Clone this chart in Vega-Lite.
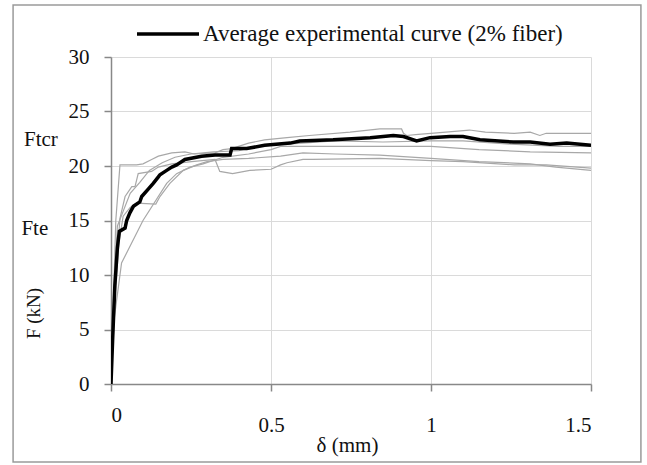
{
  "$schema": "https://vega.github.io/schema/vega-lite/v6.json",
  "autosize": {"type": "none"},
  "width": 480,
  "height": 327,
  "padding": {"left": 111, "top": 57, "right": 56, "bottom": 81},
  "background": "white",
  "config": {
    "view": {"stroke": null},
    "font": "Liberation Serif",
    "axis": {
      "labelFont": "Liberation Serif",
      "titleFont": "Liberation Serif",
      "labelFontSize": 21,
      "titleFontSize": 21,
      "labelColor": "#111111",
      "titleColor": "#111111",
      "titleFontWeight": "normal",
      "domainColor": "#888888",
      "domainWidth": 1.5,
      "tickColor": "#888888",
      "tickWidth": 1.5,
      "tickSize": 7,
      "grid": true,
      "gridColor": "#dadada",
      "gridWidth": 1
    }
  },
  "datasets": {
    "avg": [
      {"d": 0, "F": 0}, {"d": 0.005, "F": 4}, {"d": 0.012, "F": 9}, {"d": 0.02, "F": 12.5},
      {"d": 0.026, "F": 14.0}, {"d": 0.044, "F": 14.3}, {"d": 0.049, "F": 15.0}, {"d": 0.059, "F": 15.7},
      {"d": 0.07, "F": 16.3}, {"d": 0.09, "F": 16.7}, {"d": 0.096, "F": 17.2}, {"d": 0.117, "F": 17.9},
      {"d": 0.132, "F": 18.4}, {"d": 0.148, "F": 19.0}, {"d": 0.153, "F": 19.2}, {"d": 0.174, "F": 19.6},
      {"d": 0.19, "F": 19.9}, {"d": 0.205, "F": 20.1}, {"d": 0.231, "F": 20.6}, {"d": 0.283, "F": 20.9},
      {"d": 0.325, "F": 21.0}, {"d": 0.372, "F": 21.0}, {"d": 0.377, "F": 21.6}, {"d": 0.424, "F": 21.6},
      {"d": 0.48, "F": 21.9}, {"d": 0.56, "F": 22.1}, {"d": 0.59, "F": 22.3}, {"d": 0.694, "F": 22.4},
      {"d": 0.81, "F": 22.6}, {"d": 0.882, "F": 22.8}, {"d": 0.914, "F": 22.7}, {"d": 0.955, "F": 22.3},
      {"d": 0.997, "F": 22.6}, {"d": 1.06, "F": 22.7}, {"d": 1.1, "F": 22.7}, {"d": 1.153, "F": 22.4},
      {"d": 1.257, "F": 22.2}, {"d": 1.31, "F": 22.2}, {"d": 1.372, "F": 22.0}, {"d": 1.424, "F": 22.1},
      {"d": 1.5, "F": 21.9}
    ],
    "grey": [
      {"s": "G1", "d": 0, "F": 0}, {"s": "G1", "d": 0.005, "F": 5}, {"s": "G1", "d": 0.015, "F": 15},
      {"s": "G1", "d": 0.028, "F": 20.1}, {"s": "G1", "d": 0.08, "F": 20.1}, {"s": "G1", "d": 0.1, "F": 20.2},
      {"s": "G1", "d": 0.127, "F": 20.6}, {"s": "G1", "d": 0.148, "F": 20.9}, {"s": "G1", "d": 0.19, "F": 21.2},
      {"s": "G1", "d": 0.231, "F": 21.3}, {"s": "G1", "d": 0.26, "F": 21.1}, {"s": "G1", "d": 0.325, "F": 21.2},
      {"s": "G1", "d": 0.35, "F": 21.5}, {"s": "G1", "d": 0.377, "F": 21.6}, {"s": "G1", "d": 0.43, "F": 22.1},
      {"s": "G1", "d": 0.48, "F": 22.4}, {"s": "G1", "d": 0.55, "F": 22.6}, {"s": "G1", "d": 0.62, "F": 22.8},
      {"s": "G1", "d": 0.747, "F": 23.1}, {"s": "G1", "d": 0.84, "F": 23.4}, {"s": "G1", "d": 0.908, "F": 23.4},
      {"s": "G1", "d": 0.914, "F": 23.0}, {"s": "G1", "d": 0.924, "F": 22.8}, {"s": "G1", "d": 0.96, "F": 22.9},
      {"s": "G1", "d": 1.0, "F": 23.0}, {"s": "G1", "d": 1.12, "F": 23.3}, {"s": "G1", "d": 1.17, "F": 23.1},
      {"s": "G1", "d": 1.26, "F": 23.0}, {"s": "G1", "d": 1.31, "F": 23.1}, {"s": "G1", "d": 1.34, "F": 22.8},
      {"s": "G1", "d": 1.36, "F": 23.0}, {"s": "G1", "d": 1.5, "F": 23.0},

      {"s": "G2", "d": 0, "F": 0}, {"s": "G2", "d": 0.01, "F": 8}, {"s": "G2", "d": 0.028, "F": 15.2},
      {"s": "G2", "d": 0.044, "F": 17.2}, {"s": "G2", "d": 0.065, "F": 18.1}, {"s": "G2", "d": 0.075, "F": 18.1},
      {"s": "G2", "d": 0.085, "F": 19.3}, {"s": "G2", "d": 0.127, "F": 19.5}, {"s": "G2", "d": 0.148, "F": 19.9},
      {"s": "G2", "d": 0.19, "F": 20.2}, {"s": "G2", "d": 0.252, "F": 20.4}, {"s": "G2", "d": 0.325, "F": 20.6},
      {"s": "G2", "d": 0.34, "F": 19.5}, {"s": "G2", "d": 0.38, "F": 19.3}, {"s": "G2", "d": 0.434, "F": 19.6},
      {"s": "G2", "d": 0.5, "F": 19.7}, {"s": "G2", "d": 0.53, "F": 20.1}, {"s": "G2", "d": 0.55, "F": 20.3},
      {"s": "G2", "d": 0.6, "F": 20.6}, {"s": "G2", "d": 0.63, "F": 20.6}, {"s": "G2", "d": 0.84, "F": 20.7},
      {"s": "G2", "d": 1.0, "F": 20.5}, {"s": "G2", "d": 1.1, "F": 20.4}, {"s": "G2", "d": 1.26, "F": 20.1},
      {"s": "G2", "d": 1.36, "F": 20.1}, {"s": "G2", "d": 1.5, "F": 19.8},

      {"s": "G3", "d": 0, "F": 0}, {"s": "G3", "d": 0.01, "F": 7}, {"s": "G3", "d": 0.025, "F": 13},
      {"s": "G3", "d": 0.038, "F": 15.4}, {"s": "G3", "d": 0.06, "F": 16.2}, {"s": "G3", "d": 0.08, "F": 16.6},
      {"s": "G3", "d": 0.14, "F": 16.5}, {"s": "G3", "d": 0.153, "F": 17.2}, {"s": "G3", "d": 0.184, "F": 18.4},
      {"s": "G3", "d": 0.226, "F": 19.6}, {"s": "G3", "d": 0.268, "F": 20.1}, {"s": "G3", "d": 0.3, "F": 20.4},
      {"s": "G3", "d": 0.35, "F": 20.6}, {"s": "G3", "d": 0.43, "F": 20.7}, {"s": "G3", "d": 0.53, "F": 20.9},
      {"s": "G3", "d": 0.6, "F": 21.2}, {"s": "G3", "d": 0.7, "F": 21.1}, {"s": "G3", "d": 0.84, "F": 21.0},
      {"s": "G3", "d": 1.0, "F": 20.7}, {"s": "G3", "d": 1.15, "F": 20.4}, {"s": "G3", "d": 1.31, "F": 20.2},
      {"s": "G3", "d": 1.39, "F": 19.9}, {"s": "G3", "d": 1.5, "F": 19.6},

      {"s": "G4", "d": 0, "F": 0}, {"s": "G4", "d": 0.01, "F": 6}, {"s": "G4", "d": 0.033, "F": 11.1},
      {"s": "G4", "d": 0.1, "F": 15.0}, {"s": "G4", "d": 0.174, "F": 18.4}, {"s": "G4", "d": 0.205, "F": 19.3},
      {"s": "G4", "d": 0.247, "F": 19.9}, {"s": "G4", "d": 0.288, "F": 20.2}, {"s": "G4", "d": 0.35, "F": 20.8},
      {"s": "G4", "d": 0.43, "F": 21.1}, {"s": "G4", "d": 0.5, "F": 21.5}, {"s": "G4", "d": 0.53, "F": 21.8},
      {"s": "G4", "d": 0.65, "F": 21.8}, {"s": "G4", "d": 0.81, "F": 21.8}, {"s": "G4", "d": 1.0, "F": 21.8},
      {"s": "G4", "d": 1.15, "F": 21.5}, {"s": "G4", "d": 1.31, "F": 21.3}, {"s": "G4", "d": 1.5, "F": 21.2},

      {"s": "G5", "d": 0, "F": 0}, {"s": "G5", "d": 0.01, "F": 9}, {"s": "G5", "d": 0.02, "F": 14.5},
      {"s": "G5", "d": 0.04, "F": 16}, {"s": "G5", "d": 0.06, "F": 17.5}, {"s": "G5", "d": 0.09, "F": 18.5},
      {"s": "G5", "d": 0.12, "F": 19.6}, {"s": "G5", "d": 0.16, "F": 20.3}, {"s": "G5", "d": 0.2, "F": 20.8},
      {"s": "G5", "d": 0.25, "F": 21.1}, {"s": "G5", "d": 0.32, "F": 21.3}, {"s": "G5", "d": 0.4, "F": 21.4},
      {"s": "G5", "d": 0.45, "F": 21.8}, {"s": "G5", "d": 0.55, "F": 22.0}, {"s": "G5", "d": 0.7, "F": 22.3},
      {"s": "G5", "d": 0.85, "F": 22.2}, {"s": "G5", "d": 1.0, "F": 22.3}, {"s": "G5", "d": 1.1, "F": 22.3},
      {"s": "G5", "d": 1.25, "F": 22.0}, {"s": "G5", "d": 1.4, "F": 21.8}, {"s": "G5", "d": 1.5, "F": 21.8}
    ],
    "notes": [
      {"label": "Ftcr", "d": -0.272, "F": 22.4},
      {"label": "Fte", "d": -0.28, "F": 14.2}
    ],
    "frame": [
      {"x0": -0.306, "x1": 1.656, "y0": 34.77, "y1": -7.15}
    ]
  },
  "layer": [
    {
      "data": {"name": "grey"},
      "mark": {"type": "line", "color": "#a8a8a8", "strokeWidth": 1.2, "clip": true},
      "encoding": {
        "x": {"field": "d", "type": "quantitative"},
        "y": {"field": "F", "type": "quantitative"},
        "detail": {"field": "s"}
      }
    },
    {
      "data": {"name": "avg"},
      "transform": [{"calculate": "'Average experimental curve (2% fiber)'", "as": "series"}],
      "mark": {"type": "line", "strokeWidth": 3.5, "clip": true},
      "encoding": {
        "x": {"field": "d", "type": "quantitative"},
        "y": {"field": "F", "type": "quantitative"},
        "color": {
          "field": "series", "type": "nominal",
          "scale": {"domain": ["Average experimental curve (2% fiber)"], "range": ["#000000"]},
          "legend": {
            "title": null, "orient": "none", "legendX": 24, "legendY": -56,
            "padding": 0, "symbolType": "stroke", "symbolSize": 3844, "symbolStrokeWidth": 3.5,
            "labelFont": "Liberation Serif", "labelFontSize": 23, "labelColor": "#111111", "labelOffset": 2,
            "labelLimit": 500
          }
        }
      }
    },
    {
      "data": {"name": "notes"},
      "mark": {"type": "text", "align": "left", "baseline": "middle", "font": "Liberation Serif", "fontSize": 21, "color": "#111111", "clip": false},
      "encoding": {
        "x": {"field": "d", "type": "quantitative"},
        "y": {"field": "F", "type": "quantitative"},
        "text": {"field": "label"}
      }
    },
    {
      "data": {"name": "frame"},
      "mark": {"type": "rect", "fill": "transparent", "stroke": "#9a9a9a", "strokeWidth": 1.5, "clip": false},
      "encoding": {
        "x": {"field": "x0", "type": "quantitative"},
        "x2": {"field": "x1"},
        "y": {"field": "y0", "type": "quantitative"},
        "y2": {"field": "y1"}
      }
    }
  ],
  "encoding": {
    "x": {
      "type": "quantitative",
      "scale": {"domain": [0, 1.5], "nice": false, "zero": false},
      "axis": {
        "values": [0, 0.5, 1, 1.5], "format": "~g", "title": "δ (mm)", "grid": true,
        "labelPadding": {"condition": {"test": "datum.value === 0", "value": 13}, "value": 23},
        "labelBaseline": "top",
        "titleX": 236, "titleY": 61, "titleBaseline": "middle", "titleAlign": "center"
      }
    },
    "y": {
      "type": "quantitative",
      "scale": {"domain": [0, 30], "nice": false, "zero": false},
      "axis": {
        "values": [0, 5, 10, 15, 20, 25, 30], "title": "F (kN)", "labelPadding": 15, "grid": true,
        "titleX": -78, "titleY": 256, "titleBaseline": "middle", "titleAlign": "center", "titleAngle": -90, "titleFontSize": 19
      }
    }
  }
}
